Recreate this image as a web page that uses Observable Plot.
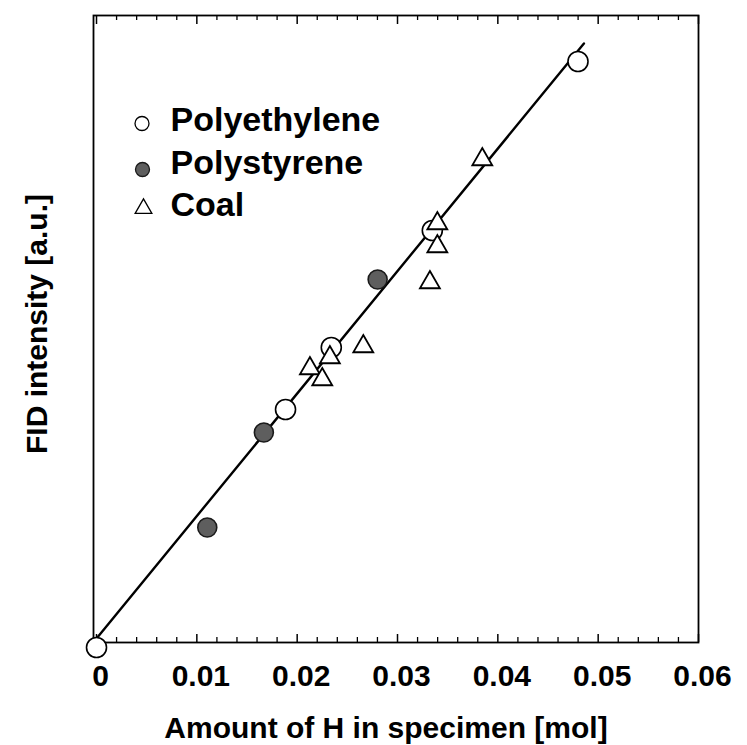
<!DOCTYPE html>
<html>
<head>
<meta charset="utf-8">
<script src="https://cdn.jsdelivr.net/npm/d3@7"></script>
<script src="https://cdn.jsdelivr.net/npm/@observablehq/plot@0.6"></script>
<style>
  html, body { margin: 0; padding: 0; background: white; }
</style>
</head>
<body>
<div id="chart"></div>
<script>
// ---- data ----
const peX = [0, 0.01884, 0.02340, 0.03347, 0.04799];          // Polyethylene
const peY = [0, 2.38, 3.00, 4.17, 5.86];
const psX = [0.01104, 0.01668, 0.02802];                       // Polystyrene
const psY = [1.20, 2.15, 3.68];
const coalX = [0.02127, 0.02250, 0.02326, 0.02659, 0.03323, 0.03397, 0.03397, 0.03845]; // Coal
const coalY = [2.79, 2.68, 2.90, 3.01, 3.65, 4.01, 4.24, 4.88];
const fitX = [0, 0.04858];                                      // regression line ends
const fitY = [0.09, 6.04];

const xMajorTicks = [0, 0.01, 0.02, 0.03, 0.04, 0.05, 0.06];
const xTickLabels = ["0", "0.01", "0.02", "0.03", "0.04", "0.05", "0.06"];
const xMinorTicks = [0.002, 0.004, 0.006, 0.008, 0.012, 0.014, 0.016, 0.018,
                     0.022, 0.024, 0.026, 0.028, 0.032, 0.034, 0.036, 0.038,
                     0.042, 0.044, 0.046, 0.048, 0.052, 0.054, 0.056, 0.058];
const legendLabels = ["Polyethylene", "Polystyrene", "Coal"];
const xTitle = "Amount of H in specimen [mol]";
const yTitle = "FID intensity [a.u.]";

// ---- layout ----
const W = 747, H = 745, mL = 93, mR = 49, mT = 15, mB = 103;
const innerH = H - mT - mB;
const font = "'Liberation Sans', Arial, Helvetica, sans-serif";

const legendStyles = [
  {symbol: "circle", r: 7, fill: "white", stroke: "black", strokeWidth: 1.3, dx: 48.5, dy: 108},
  {symbol: "circle", r: 7, fill: "#5e5e5e", stroke: "#1a1a1a", strokeWidth: 1.3, dx: 49, dy: 154},
  {symbol: "triangle", r: 6.2, fill: "white", stroke: "black", strokeWidth: 1.3, dx: 50, dy: 193}
];
const legendTextDy = [105, 148, 190];

const legendMarks = [];
legendLabels.forEach((lab, i) => {
  const s = legendStyles[i];
  legendMarks.push(Plot.dot([lab], {frameAnchor: "top-left", dx: s.dx, dy: s.dy, symbol: s.symbol, r: s.r,
    fill: s.fill, stroke: s.stroke, strokeWidth: s.strokeWidth}));
  legendMarks.push(Plot.text([lab], {frameAnchor: "top-left", dx: 77, dy: legendTextDy[i],
    textAnchor: "start", lineAnchor: "middle", fontSize: 34, fontWeight: "bold", fill: "black"}));
});

const chart = Plot.plot({
  width: W, height: H,
  marginLeft: mL, marginRight: mR, marginTop: mT, marginBottom: mB,
  style: {fontFamily: font, background: "white", color: "black"},
  x: {domain: [-0.0003, 0.06], axis: null},
  y: {domain: [0.05, 6.32], axis: null},
  marks: [
    // ticks pointing inward, bottom and top
    Plot.tickX(xMajorTicks, {x: d => d, insetTop: innerH - 8, stroke: "black", strokeWidth: 1.5}),
    Plot.tickX(xMinorTicks, {x: d => d, insetTop: innerH - 5, stroke: "black", strokeWidth: 1.3}),
    Plot.tickX(xMajorTicks, {x: d => d, insetBottom: innerH - 9, stroke: "black", strokeWidth: 1.5}),
    Plot.tickX(xMinorTicks, {x: d => d, insetBottom: innerH - 5, stroke: "black", strokeWidth: 1.3}),
    Plot.axisX(xMajorTicks, {tickSize: 0, tickPadding: 22, fontSize: 30, fontWeight: "bold", dx: 4,
      tickFormat: (d) => xTickLabels[xMajorTicks.indexOf(d)], label: null}),
    Plot.frame({stroke: "black", strokeWidth: 1.8}),
    Plot.line(fitX, {x: fitX, y: fitY, stroke: "black", strokeWidth: 2.4}),
    Plot.dot(peX, {x: peX, y: peY, r: 10, fill: "white", stroke: "black", strokeWidth: 1.6}),
    Plot.dot(psX, {x: psX, y: psY, r: 9.5, fill: "#5e5e5e", stroke: "#1a1a1a", strokeWidth: 1.6}),
    Plot.dot(coalX, {x: coalX, y: coalY, symbol: "triangle", r: 7.4, fill: "white", stroke: "black", strokeWidth: 1.8}),
    ...legendMarks,
    Plot.text([xTitle], {frameAnchor: "bottom", dx: -10, dy: 86, textAnchor: "middle", lineAnchor: "middle",
      fontSize: 30, fontWeight: "bold", fill: "black"}),
    Plot.text([yTitle], {frameAnchor: "left", rotate: -90, dx: -56, dy: -5, textAnchor: "middle", lineAnchor: "middle",
      fontSize: 30, fontWeight: "bold", fill: "black"})
  ]
});
document.getElementById("chart").appendChild(chart);
</script>
</body>
</html>
